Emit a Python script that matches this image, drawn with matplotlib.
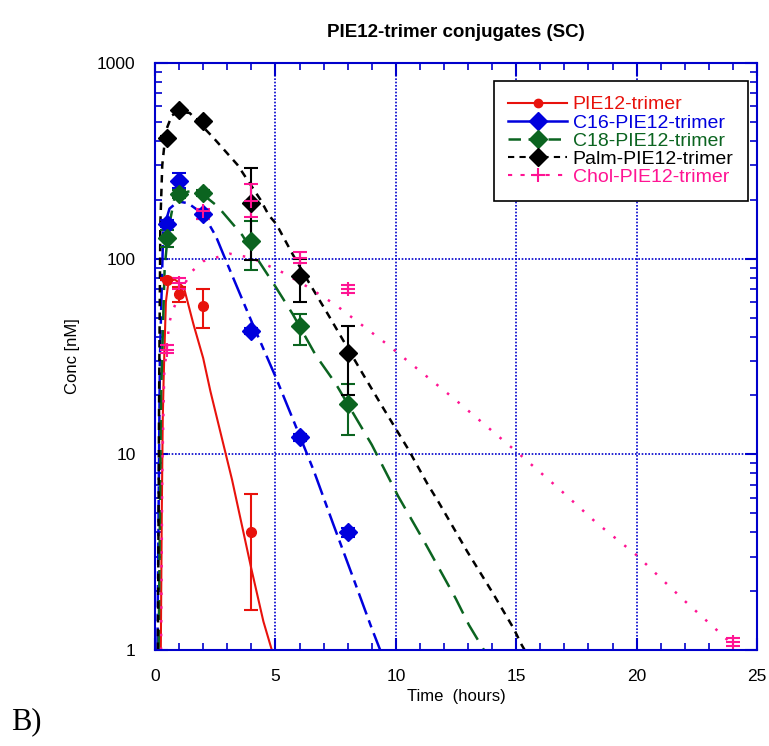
import matplotlib
matplotlib.use("Agg")
import matplotlib.pyplot as plt
from matplotlib.ticker import FixedLocator, FixedFormatter, MultipleLocator, NullFormatter
import numpy as np

plt.rcParams["font.family"] = ["Liberation Sans", "DejaVu Sans"]

# measured points (time in hours, conc in nM)
t_obs = [0.5, 1, 2, 4, 6, 8]

pie_t = [0.5, 1, 2, 4]
pie_y = [78, 66, 57, 4.0]
pie_lo = [78, 60, 44, 1.6]
pie_hi = [80, 72, 70, 6.3]

c16_y = [151, 249, 169, 42.5, 12.2, 4.0]
c16_lo = [145, 230, 160, 41, 11.7, 3.8]
c16_hi = [158, 275, 178, 44, 12.7, 4.2]

c18_y = [128, 214, 217, 123, 45, 18]
c18_lo = [115, 205, 210, 88, 36, 12.5]
c18_hi = [140, 225, 225, 155, 52, 23]

palm_y = [415, 575, 505, 193, 82, 33]
palm_lo = [405, 565, 495, 98, 60, 20]
palm_hi = [425, 585, 515, 290, 99, 45]

chol_t = [0.5, 1, 2, 4, 6, 8, 24]
chol_y = [34, 75, 175, 198, 101, 70, 1.1]
chol_lo = [33, 70, 160, 163, 95, 67, 1.05]
chol_hi = [36, 80, 179, 240, 108, 73, 1.15]

# fitted curves
pie_ft = [0.24, 0.28, 0.32, 0.36, 0.45, 0.55, 0.66, 0.9, 1.2, 1.6, 2.0, 2.3, 3.2, 4.0, 4.5, 4.85]
pie_fy = [1, 5, 15, 25, 60, 75, 80, 77, 71, 46, 31, 21, 7.4, 2.6, 1.4, 1]

c16_ft = [0.1, 0.2, 0.34, 0.6, 0.96, 1.37, 2.0, 2.53, 2.94, 4.0, 5.0, 6.0, 6.6, 7.4, 8.25, 9.0, 9.35]
c16_fy = [1, 30, 140, 180, 196, 192, 169, 130, 98, 48, 25, 12.5, 8.2, 4.4, 2.3, 1.29, 1]

c18_ft = [0.15, 0.25, 0.4, 0.55, 0.82, 1.37, 1.8, 2.6, 3.62, 4.24, 5.0, 5.72, 6.68, 7.5, 9.0,
          10.1, 11.26, 12.49, 13.04, 13.66]
c18_fy = [1, 20, 90, 140, 208, 220, 222, 185, 132, 100, 72, 52, 32, 23, 11.2,
          6.1, 3.44, 1.83, 1.34, 1]

palm_ft = [0.12, 0.17, 0.22, 0.3, 0.45, 0.7, 1.0, 1.44, 2.43, 3.42, 4.38, 4.72, 5.04, 5.72,
           6.27, 7.22, 8.53, 9.48, 10.5, 11.33, 11.74, 12.97, 14.0, 14.89, 15.23, 15.35]
palm_fy = [1, 20, 150, 300, 450, 540, 565, 555, 414, 302, 200, 167, 150, 105,
           80, 51, 27, 17.2, 10.7, 7.0, 5.8, 3.18, 1.98, 1.29, 1.06, 1]

chol_ft = [0.25, 0.3, 0.38, 0.59, 0.73, 1.0, 1.48, 2.0, 3.1, 4.0, 5.3, 6.4, 7.5, 9.7, 12.43,
           15.1, 16.7, 18.3, 20.0, 22.0, 23.5, 24.1]
chol_fy = [1, 8, 25.6, 47, 54, 65, 85, 97, 106, 101, 85, 71, 58, 36, 19.2,
           10.1, 6.8, 4.5, 3.05, 1.78, 1.21, 1.03]

red = "#e8120c"
blue = "#0000dd"
green = "#0b6420"
black = "#000000"
pink = "#ff1493"
axis_blue = "#0000cc"

fig = plt.figure(figsize=(7.69, 7.46), dpi=100)
ax = fig.add_axes([0.2016, 0.1287, 0.7828, 0.7869])


def err(y, lo, hi):
    y = np.array(y)
    return [y - np.array(lo), np.array(hi) - y]


ls_c16 = (0, (9, 2.5, 3, 2.5))
ls_c18 = (0, (8, 4))
ls_palm = (0, (3, 2.5))
ls_chol = (0, (1, 4.5))

# fitted lines
ax.plot(pie_ft, pie_fy, color=red, lw=1.5, ls="-")
ax.plot(c16_ft, c16_fy, color=blue, lw=1.8, ls=ls_c16)
ax.plot(c18_ft, c18_fy, color=green, lw=1.8, ls=ls_c18)
ax.plot(palm_ft, palm_fy, color=black, lw=1.8, ls=ls_palm)
ax.plot(chol_ft, chol_fy, color=pink, lw=1.8, ls=ls_chol)

# measured points with error bars
kw = dict(ls="none", elinewidth=1.5, capsize=5, capthick=1.5)
ax.errorbar(pie_t, pie_y, yerr=err(pie_y, pie_lo, pie_hi), color=red, marker="o", ms=7, **kw)
ax.errorbar(t_obs, c16_y, yerr=err(c16_y, c16_lo, c16_hi), color=blue, marker="D", ms=9, **kw)
ax.errorbar(t_obs, c18_y, yerr=err(c18_y, c18_lo, c18_hi), color=green, marker="D", ms=9, **kw)
ax.errorbar(t_obs, palm_y, yerr=err(palm_y, palm_lo, palm_hi), color=black, marker="D", ms=9, **kw)
ax.errorbar(chol_t, chol_y, yerr=err(chol_y, chol_lo, chol_hi), color=pink, marker="+", ms=10, mew=1.5, **kw)

# legend handles
h1, = ax.plot([], [], color=red, lw=1.5, marker="o", ms=6)
h2, = ax.plot([], [], color=blue, lw=1.8, marker="D", ms=9)
h3, = ax.plot([], [], color=green, lw=1.8, ls=(0, (5, 3)), marker="D", ms=9)
h4, = ax.plot([], [], color=black, lw=1.5, ls=(0, (3, 2.5)), marker="D", ms=9)
h5, = ax.plot([], [], color=pink, lw=1.5, ls=(0, (2, 4)), marker="+", ms=10, mew=1.5)
labels = ["PIE12-trimer", "C16-PIE12-trimer", "C18-PIE12-trimer",
          "Palm-PIE12-trimer", "Chol-PIE12-trimer"]
leg = ax.legend([h1, h2, h3, h4, h5], labels, loc="upper right",
                bbox_to_anchor=(0.985, 0.969), fontsize=14, handlelength=3.0,
                fancybox=False, edgecolor="black", framealpha=1,
                borderpad=0.75, labelspacing=0.03, handletextpad=0.3,
                borderaxespad=0)
leg.get_frame().set_linewidth(1.2)
for txt, c in zip(leg.get_texts(), [red, blue, green, black, pink]):
    txt.set_color(c)

ax.set_yscale("log")
ax.set_xlim(0, 25)
ax.set_ylim(1, 1000)
ax.xaxis.set_major_locator(MultipleLocator(5))
ax.xaxis.set_minor_locator(MultipleLocator(1))
ax.yaxis.set_major_locator(FixedLocator([1, 10, 100, 1000]))
ax.yaxis.set_major_formatter(FixedFormatter(["1", "10", "100", "1000"]))
ax.yaxis.set_minor_formatter(NullFormatter())

ax.grid(True, which="major", color=axis_blue, ls=(0, (1, 1)), lw=1.2)
for s in ax.spines.values():
    s.set_color(axis_blue)
    s.set_linewidth(1.5)
ax.tick_params(which="both", direction="in", top=True, right=True,
               color=axis_blue, labelsize=12.5, labelcolor="black")
ax.tick_params(which="major", length=9, width=1.5, pad=14)
ax.tick_params(which="minor", length=5, width=1.2)

ax.set_title("PIE12-trimer conjugates (SC)", fontsize=13.5, fontweight="bold", pad=19)
ax.set_xlabel("Time  (hours)", fontsize=12, labelpad=3)
ax.set_ylabel("Conc [nM]", fontsize=12, labelpad=12)

fig.text(0.014, 0.022, "B)", fontsize=22, family="Liberation Serif")

fig.savefig("out.png", dpi=100)
